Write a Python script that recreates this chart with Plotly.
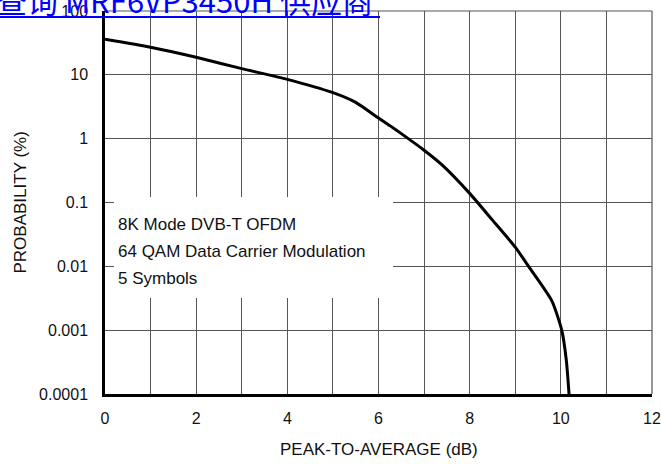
import plotly.graph_objects as go

# Data
x_db = [0, 1, 2, 3, 4, 5, 5.5, 6, 6.25, 6.5, 7, 7.4, 8, 8.5, 9, 9.3, 9.8, 10.02, 10.12, 10.18]
prob = [36, 27, 18.8, 12.5, 8.5, 5.25, 3.7, 2.1, 1.6, 1.2, 0.66, 0.385, 0.139, 0.053, 0.02, 0.0098,
        0.0029, 0.001, 0.00034, 0.0001]

y_tickvals = [0.0001, 0.001, 0.01, 0.1, 1, 10, 100]
y_ticktext = ["0.0001", "0.001", "0.01", "0.1", "1", "10", "100"]
x_tickvals = [0, 2, 4, 6, 8, 10, 12]

note_lines = ["8K Mode DVB-T OFDM", "64 QAM Data Carrier Modulation", "5 Symbols"]
header = "查询 MRF6VP3450H 供应商"

FONT = "Liberation Sans, Arial, sans-serif"
GRID = "#555555"
TXT = "#111111"

W, H = 661, 464
L, R, T, B = 105, 9, 11, 70
PW, PH = W - L - R, H - T - B


def px_x(p):
    return (p - L) / PW


def px_y(p):
    return (H - B - p) / PH


fig = go.Figure()
fig.add_trace(go.Scatter(x=x_db, y=prob, mode="lines",
                         line=dict(color="black", width=3, shape="spline", smoothing=0.6),
                         showlegend=False, hoverinfo="skip"))

fig.update_layout(
    width=W, height=H,
    margin=dict(l=L, r=R, t=T, b=B, autoexpand=False),
    paper_bgcolor="white", plot_bgcolor="white",
    font=dict(family=FONT, size=16, color=TXT),
)

fig.update_xaxes(
    range=[0, 12], tickvals=x_tickvals, ticks="",
    showgrid=True, gridcolor=GRID, gridwidth=1.2,
    minor=dict(dtick=1, showgrid=True, gridcolor=GRID, gridwidth=1.2),
    showline=True, linecolor="black", linewidth=2.5,
    zeroline=False, ticklabelstandoff=8, automargin=False,
    ticklabeloverflow="allow", tickfont=dict(size=16),
)
fig.update_yaxes(
    type="log", range=[-4, 2], tickvals=y_tickvals, ticktext=y_ticktext, ticks="",
    showgrid=True, gridcolor=GRID, gridwidth=1.2,
    showline=True, linecolor="black", linewidth=2.5,
    zeroline=False, ticklabelstandoff=11, automargin=False,
    ticklabeloverflow="allow", tickfont=dict(size=16),
)

# top and right border (grid-style)
fig.add_shape(type="line", xref="paper", yref="paper", x0=0, x1=1, y0=1, y1=1,
              line=dict(color=GRID, width=1.2))
fig.add_shape(type="line", xref="paper", yref="paper", x0=1, x1=1, y0=0, y1=1,
              line=dict(color=GRID, width=1.2))

# white box behind the note
fig.add_shape(type="rect", xref="paper", yref="paper",
              x0=px_x(114), x1=px_x(393), y0=px_y(298), y1=px_y(197),
              fillcolor="white", line=dict(width=0), layer="above")

for i, t in enumerate(note_lines):
    fig.add_annotation(text=t, xref="paper", yref="paper", x=px_x(116), y=px_y(224 + 27 * i),
                       xanchor="left", yanchor="middle", showarrow=False,
                       font=dict(family=FONT, size=17, color=TXT))

# axis titles
fig.add_annotation(text="PEAK-TO-AVERAGE (dB)", xref="paper", yref="paper",
                   x=0.5, y=px_y(449), xanchor="center", yanchor="middle", showarrow=False,
                   font=dict(family=FONT, size=17, color=TXT))
fig.add_annotation(text="PROBABILITY (%)", xref="paper", yref="paper",
                   x=px_x(20), y=0.5, xanchor="center", yanchor="middle", showarrow=False,
                   textangle=-90, font=dict(family=FONT, size=17, color=TXT))

# header link text (clipped at top)
fig.add_annotation(text=header, xref="paper", yref="paper",
                   x=px_x(-6), y=px_y(-1), xanchor="left", yanchor="middle", showarrow=False,
                   font=dict(family="Noto Sans CJK SC", size=31, color="#0000ff"))
fig.add_shape(type="line", xref="paper", yref="paper",
              x0=px_x(0), x1=px_x(380), y0=px_y(17), y1=px_y(17),
              line=dict(color="#0000ff", width=2))

fig.write_html("out.html", config={"displayModeBar": False},
               post_script="document.body.style.margin='0';document.body.style.padding='0';")
